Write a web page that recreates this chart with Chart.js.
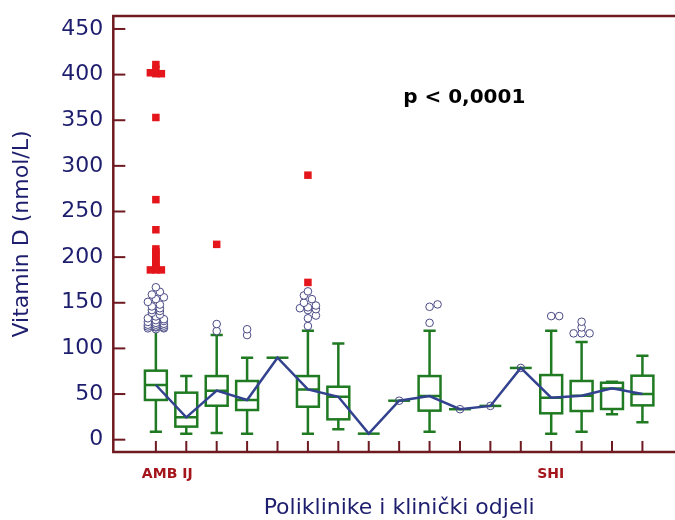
<!DOCTYPE html>
<html><head><meta charset="utf-8">
<script src="https://cdn.jsdelivr.net/npm/chart.js@4.4.0/dist/chart.umd.min.js"></script>
<style>
html,body{margin:0;padding:0;overflow:hidden;background:#fff;width:675px;height:520px}
#wrap{width:690px;height:520px}
</style></head>
<body><div id="wrap"><canvas id="c" width="690" height="520"></canvas></div>
<script>
// ---- data ----
const categories = ['AMB IJ','','','','','','','','','','','','','SHI','','',''];
const whiskerLow  = [8.8, 6.6, 7.3, 6.6, 89.8, 6.6, 11.4, 6.6, 42.7, 8.8, 33.4, 37.0, 78.6, 6.6, 8.8, 27.8, 19.0];
const q1          = [43.5, 14.3, 37.2, 32.5, 89.8, 36.1, 22.3, 6.6, 42.7, 31.8, 33.4, 37.0, 78.6, 28.9, 31.4, 33.6, 37.6];
const median      = [59.9, 24.5, 53.7, 43.5, 89.8, 55.1, 47.0, 6.6, 42.7, 47.8, 33.4, 37.0, 78.6, 46.0, 48.2, 56.2, 50.0];
const q3          = [75.6, 51.5, 69.7, 64.3, 89.8, 69.7, 58.0, 6.6, 42.7, 69.7, 33.4, 37.0, 78.6, 70.8, 64.3, 62.4, 70.1];
const whiskerHigh = [121, 69.7, 114.6, 89.8, 89.8, 119.4, 105.5, 6.6, 42.7, 119.4, 33.4, 37.0, 78.6, 119.4, 107, 63.6, 92.0];
const outliers = [
  [121,122,122,123,123,124,124,125,126,126,127,128,129,130,131,132,133,135,137,139,141,142,144,146,148,151,154,156,159,162,167],
  [], [119,126.7], [114.6,121], [],
  [124.5,133,136,142,143,144,145,147,150,154,158,162.5],
  [], [], [], [128,145.6,148.2], [], [], [], [135.4,135.4],
  [116.5,116.5,116.5,123,129.2], [], []
];
const farOutliers = [
  [411,406,402,401,401,353,263,230,209,206,203,200,197,194,191,188.5,186,186,186],
  [], [214], [], [], [172.3,289.8], [], [], [], [], [], [], [], [], [], [], []
];
const singleObsCats = [8, 10, 11, 12];
const yTicks = [0,50,100,150,200,250,300,350,400,450];
const yTitle = 'Vitamin D (nmol/L)';
const xTitle = 'Poliklinike i klinički odjeli';
const pText = 'p < 0,0001';
const pPos = {x: 10.14, y: 374.4};

// ---- styles ----
const FONT = "'DejaVu Sans', 'Liberation Sans', Arial, sans-serif";
const FRAME = '#6e1a20';
const NAVY = '#1e1e6e';
const GREEN = '#1f7a22';
const BLUE = '#33428f';
const RED = '#e4161b';
const LABEL_RED = '#a5161c';
const CIRCLE = '#4a4a86';

function swarm(vals, cx, yScale, step, maxK, collide) {
  const placed = [];
  const ks = [0];
  for (let k = 1; k <= maxK; k++) { ks.push(k, -k); }
  vals.slice().sort((a,b)=>a-b).forEach(v => {
    const py = yScale.getPixelForValue(v);
    let best = cx, bestHits = Infinity;
    for (const k of ks) {
      const px = cx + k*step;
      const hits = placed.filter(p => collide(p, px, py)).length;
      if (hits === 0) { best = px; bestHits = 0; break; }
      if (hits < bestHits) { bestHits = hits; best = px; }
    }
    placed.push({x: best, y: py});
  });
  return placed;
}

const boxPlugin = {
  id: 'boxplot',
  beforeDatasetsDraw(chart) {
    const {ctx, chartArea: a, scales: {x, y}} = chart;
    ctx.save();
    ctx.strokeStyle = FRAME; ctx.lineWidth = 2.5; ctx.lineCap = 'butt';
    ctx.beginPath();
    ctx.moveTo(a.right, a.top); ctx.lineTo(a.left, a.top);
    ctx.lineTo(a.left, a.bottom); ctx.lineTo(a.right, a.bottom);
    ctx.stroke();
    ctx.lineWidth = 2;
    x.ticks.forEach(t => {
      const px = x.getPixelForValue(t.value);
      ctx.beginPath(); ctx.moveTo(px, a.bottom); ctx.lineTo(px, a.bottom - 11); ctx.stroke();
    });
    y.ticks.forEach(t => {
      const py = y.getPixelForValue(t.value);
      ctx.beginPath(); ctx.moveTo(a.left, py); ctx.lineTo(a.left + 12, py); ctx.stroke();
    });
    const unit = x.getPixelForValue(1) - x.getPixelForValue(0);
    const hw = unit * 0.36, cw = unit * 0.2;
    ctx.strokeStyle = GREEN; ctx.lineWidth = 2.5;
    categories.forEach((c, i) => {
      const cx = x.getPixelForValue(i);
      const pl = y.getPixelForValue(whiskerLow[i]);
      const p1 = y.getPixelForValue(q1[i]);
      const pm = y.getPixelForValue(median[i]);
      const p3 = y.getPixelForValue(q3[i]);
      const ph = y.getPixelForValue(whiskerHigh[i]);
      ctx.beginPath();
      if (whiskerHigh[i] === whiskerLow[i]) {
        ctx.moveTo(cx - hw, pm); ctx.lineTo(cx + hw, pm); ctx.stroke();
        return;
      }
      ctx.moveTo(cx, ph); ctx.lineTo(cx, p3);
      ctx.moveTo(cx, p1); ctx.lineTo(cx, pl);
      ctx.moveTo(cx - cw, ph); ctx.lineTo(cx + cw, ph);
      ctx.moveTo(cx - cw, pl); ctx.lineTo(cx + cw, pl);
      ctx.moveTo(cx - hw, pm); ctx.lineTo(cx + hw, pm);
      ctx.stroke();
      ctx.strokeRect(cx - hw, p3, 2 * hw, p1 - p3);
    });
    ctx.restore();
  },
  afterDatasetsDraw(chart) {
    const {ctx, scales: {x, y}} = chart;
    ctx.save();
    const r = 3.8;
    outliers.forEach((vals, i) => {
      if (!vals.length) return;
      const pts = swarm(vals, x.getPixelForValue(i), y, 4, 2,
        (p, px, py) => Math.hypot(p.x - px, p.y - py) < 5.5);
      pts.forEach(p => {
        ctx.beginPath(); ctx.arc(p.x, p.y, r, 0, Math.PI * 2);
        ctx.fillStyle = '#fff'; ctx.fill();
        ctx.strokeStyle = CIRCLE; ctx.lineWidth = 1; ctx.stroke();
      });
    });
    const s = 7.5;
    farOutliers.forEach((vals, i) => {
      if (!vals.length) return;
      const pts = swarm(vals, x.getPixelForValue(i), y, 5.5, 2,
        (p, px, py) => Math.abs(p.y - py) < 2 && Math.abs(p.x - px) < 5);
      ctx.fillStyle = RED;
      pts.forEach(p => ctx.fillRect(p.x - s / 2, p.y - s / 2, s, s));
    });
    singleObsCats.forEach(i => {
      ctx.beginPath();
      ctx.arc(x.getPixelForValue(i), y.getPixelForValue(median[i]), r, 0, Math.PI * 2);
      ctx.strokeStyle = CIRCLE; ctx.lineWidth = 1; ctx.stroke();
    });
    ctx.fillStyle = '#000';
    ctx.font = "bold 20px " + FONT;
    ctx.textAlign = 'center'; ctx.textBaseline = 'middle';
    ctx.fillText(pText, x.getPixelForValue(pPos.x), y.getPixelForValue(pPos.y));
    ctx.restore();
  }
};

new Chart(document.getElementById('c'), {
  type: 'line',
  data: {
    datasets: [{
      data: median.map((m, i) => ({x: i, y: m})),
      borderColor: BLUE, borderWidth: 2.5, pointRadius: 0, tension: 0, fill: false
    }]
  },
  options: {
    responsive: false, animation: false, devicePixelRatio: 1,
    layout: {padding: {top: 16, right: 5, left: 0, bottom: 0}},
    plugins: {legend: {display: false}, tooltip: {enabled: false}},
    scales: {
      x: {
        type: 'linear', min: -1.4, max: 17.4,
        afterBuildTicks: s => { s.ticks = categories.map((c, i) => ({value: i})); },
        afterFit: s => { s.height = 68; s.paddingLeft = 0; s.paddingRight = 0; },
        grid: {display: false, drawTicks: false}, border: {display: false},
        ticks: {
          callback: v => categories[v] ?? '', align: 'start', labelOffset: -14, padding: 14,
          color: LABEL_RED, font: {family: FONT, size: 14, weight: 'bold'},
          autoSkip: false, maxRotation: 0
        },
        title: {display: true, text: xTitle, color: NAVY,
          font: {family: FONT, size: 22, lineHeight: 1}, padding: {top: 0, bottom: 1}}
      },
      y: {
        min: -13.5, max: 464.2,
        afterBuildTicks: s => { s.ticks = yTicks.map(v => ({value: v})); },
        afterFit: s => { s.width = 113.3; s.paddingTop = 0; s.paddingBottom = 0; },
        grid: {display: false, drawTicks: false}, border: {display: false},
        ticks: {padding: 10, color: NAVY, font: {family: FONT, size: 22}},
        title: {display: true, text: yTitle, color: NAVY,
          font: {family: FONT, size: 22, lineHeight: 1.2}, padding: {top: 9, bottom: 0}}
      }
    }
  },
  plugins: [boxPlugin]
});
</script>
</body></html>
